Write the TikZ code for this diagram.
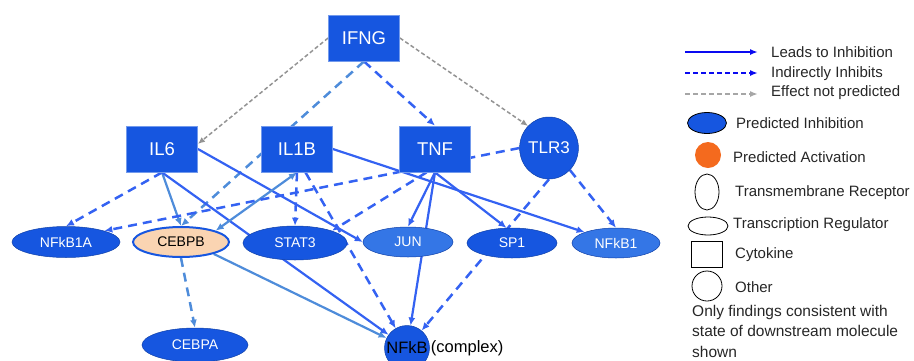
\documentclass[tikz,border=0pt]{standalone}
\usepackage{fontspec}
\setmainfont{Liberation Sans}
\usetikzlibrary{arrows.meta,positioning,shapes.geometric}

\definecolor{ipablue}{RGB}{22,86,224}
\definecolor{ipalight}{RGB}{52,118,230}
\definecolor{edgeblue}{RGB}{52,98,242}
\definecolor{edgelight}{RGB}{78,140,218}
\definecolor{peach}{RGB}{250,212,178}
\definecolor{actorange}{RGB}{244,106,30}
\definecolor{keyblue}{RGB}{10,10,240}

\pgfdeclarelayer{edges}
\pgfsetlayers{edges,main}

\begin{document}
\begin{tikzpicture}[
    x=1pt, y=-1pt,
    cyto/.style={draw=ipablue!60!white, line width=0.8pt, fill=ipablue, text=white, minimum width=71pt, minimum height=46pt, inner sep=0pt, font=\fontsize{18.5}{20}\selectfont},
    treg/.style={ellipse, draw=ipablue!75!black, line width=0.5pt, fill=ipablue, text=white, minimum width=96pt, minimum height=31pt, inner sep=0pt, font=\fontsize{14}{16}\selectfont},
    recep/.style={ellipse, draw=ipablue!75!black, line width=0.5pt, fill=ipablue, text=white, minimum width=46pt, minimum height=62pt, inner sep=0pt, font=\fontsize{17}{19}\selectfont},
    othr/.style={circle, draw=ipablue!75!black, line width=0.5pt, fill=ipablue, text=black, minimum size=45pt, inner sep=0pt, font=\fontsize{16.5}{18}\selectfont},
    inhib/.style={-{Latex[length=8pt,width=7pt]}, line width=2.2pt, draw=edgeblue},
    indir/.style={inhib, dash pattern=on 9pt off 6pt, line width=2.5pt},
    lightinh/.style={inhib, draw=edgelight},
    lightind/.style={indir, draw=edgelight},
    nopred/.style={-{Latex[length=7pt,width=6pt]}, draw=gray!85, line width=1.5pt, dash pattern=on 4pt off 2.5pt},
    keyline/.style={-{Latex[length=8pt,width=6pt]}, line width=2pt, draw=keyblue},
    keytxt/.style={anchor=west, inner sep=0pt, text=black!85, font=\fontsize{15}{17}\selectfont}
]
\useasboundingbox (0,0) rectangle (914,360);

% network
\node[cyto] (ifng) at (364,38) {IFNG};
\node[cyto] (il6) at (162,149) {IL6};
\node[cyto] (il1b) at (297,149) {IL1B};
\node[cyto] (tnf) at (435,149) {TNF};
\node[recep] (tlr3) at (549,148) {TLR3};

\node[treg, minimum width=108pt] (nfkb1a) at (66,242) {NFkB1A};
\node[treg, fill=peach, text=black, draw=ipablue, line width=2pt, minimum height=30pt] (cebpb) at (181,242) {CEBPB};
\node[treg, minimum width=104pt, minimum height=34pt] (stat3) at (295,243) {STAT3};
\node[treg, fill=ipalight, minimum width=90pt, minimum height=30pt] (jun) at (408,242) {JUN};
\node[treg, minimum width=90pt, minimum height=30pt] (sp1) at (512,243) {SP1};
\node[treg, fill=ipalight, minimum width=88pt, minimum height=30pt] (nfkb1) at (616,243) {NFkB1};
\node[treg, minimum width=106pt, minimum height=34pt] (cebpa) at (195,345) {CEBPA};
\node[othr] (nfkb) at (407,348) {NFkB};
\node[right=1pt of nfkb, inner sep=0pt, font=\fontsize{16.5}{18}\selectfont] (cplx) {(complex)};

\begin{pgfonlayer}{edges}
\draw[nopred] (ifng.west) -- (il6.8);
\draw[nopred] (ifng.east) -- (tlr3.north west);
\draw[indir] (ifng.south) -- (tnf.north);
\draw[lightind] (ifng.south) -- (cebpb.north);

\draw[indir] (il6.south) -- (nfkb1a.north);
\draw[lightinh] (il6.south) -- (cebpb.north);
\draw[inhib] (il6.south) -- (nfkb);
\draw[inhib] (il6.east) -- (jun.west);

\draw[lightinh, {Latex[length=8pt,width=7pt]}-{Latex[length=8pt,width=7pt]}] (il1b.south) -- (cebpb.north east);
\draw[indir] (il1b.south) -- (stat3.north);
\draw[indir] (il1b.-70) -- (nfkb);
\draw[inhib] (il1b.east) -- (nfkb1.north west);

\draw[inhib] (tnf.south) -- (jun.north);
\draw[inhib] (tnf.south) -- (nfkb);
\draw[inhib] (tnf.south) -- (sp1.110);
\draw[indir] (tnf.-110) -- (stat3.north east);

\draw[indir] (tlr3.west) -- (nfkb1a.north east);
\draw[indir] (tlr3.south) -- (nfkb);
\draw[indir] (tlr3.south east) -- (nfkb1.north);

\draw[lightind] (cebpb.south) -- (cebpa.north);
\draw[lightinh] (cebpb.-20) -- (nfkb);
\end{pgfonlayer}

% legend
\coordinate (k1a) at (685,52);
\coordinate (k1b) at (758,52);
\coordinate (k2a) at (685,73);
\coordinate (k2b) at (758,73);
\coordinate (k3a) at (685,94);
\coordinate (k3b) at (758,94);
\draw[keyline] (k1a) -- (k1b);
\draw[keyline, dash pattern=on 5pt off 3pt] (k2a) -- (k2b);
\draw[keyline, draw=gray!70, dash pattern=on 5pt off 3pt] (k3a) -- (k3b);
\node[keytxt] (t1) at (771,52) {Leads to Inhibition};
\node[keytxt] (t2) at (771,74) {Indirectly Inhibits};
\node[keytxt] (t3) at (771,93) {Effect not predicted};

\node[ellipse, draw=black, line width=0.8pt, fill=ipablue, minimum width=39pt, minimum height=21pt] (kinh) at (707,123) {};
\node[circle, fill=actorange, minimum size=26pt, inner sep=0pt] (kact) at (708,155) {};
\node[ellipse, draw=black, line width=0.8pt, minimum width=24pt, minimum height=36pt] (krec) at (707,192) {};
\node[ellipse, draw=black, line width=0.8pt, minimum width=40pt, minimum height=18pt] (ktrg) at (708,226) {};
\node[draw=black, line width=0.8pt, minimum width=31pt, minimum height=26pt] (kcyt) at (707,254) {};
\node[circle, draw=black, line width=0.8pt, minimum size=30pt, inner sep=0pt] (koth) at (707,286) {};

\node[keytxt] (tinh) at (736,123) {Predicted Inhibition};
\node[keytxt] (tact) at (733,157) {Predicted Activation};
\node[keytxt] (trec) at (735,193) {Transmembrane Receptor};
\node[keytxt] (ttrg) at (733,225) {Transcription Regulator};
\node[keytxt] (tcyt) at (735,255) {Cytokine};
\node[keytxt] (toth) at (735,287) {Other};
\node[keytxt, anchor=north west, align=left, font=\fontsize{15.5}{20.5}\selectfont] (tnote) at (692,305) {Only findings consistent with\\state of downstream molecule\\shown};
\end{tikzpicture}
\end{document}
